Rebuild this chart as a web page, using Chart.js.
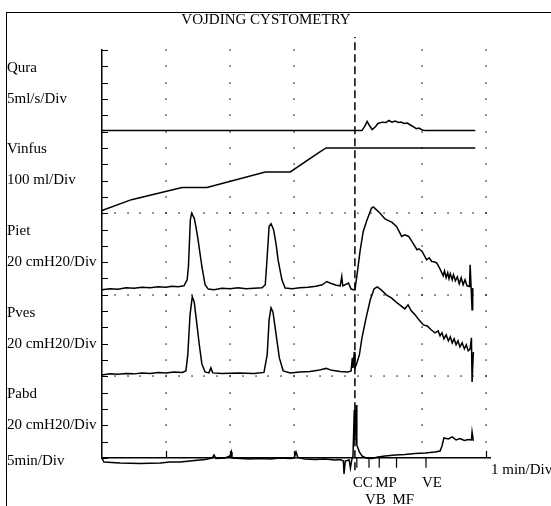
<!DOCTYPE html>
<html>
<head>
<meta charset="utf-8">
<title>Vojding cystometry</title>
<script src="https://cdn.jsdelivr.net/npm/chart.js@4.4.1/dist/chart.umd.min.js"></script>
<style>
  html, body { margin: 0; padding: 0; background: #fff; }
  #wrap { position: relative; width: 551px; height: 506px; overflow: hidden; }
  #frame { position: absolute; left: 6px; top: 12px; right: -2px; bottom: -2px;
           border-left: 1.5px solid #000; border-top: 1.5px solid #000; }
  #cmg { position: absolute; left: 0; top: 0; }
</style>
</head>
<body>
<div id="wrap">
  <div id="frame"></div>
  <canvas id="cmg" width="551" height="506"></canvas>
</div>
<script>
// ---------------------------
// data: x = time in divisions (0-4 at 5 min/Div, after 4 at 1 min/Div)
// y = channel value in its own unit
const quraTrace = [ // ml/s
  [0,0.3],[4.06,0.3],[4.11,1.8],[4.14,3.1],[4.17,2.1],[4.22,0.6],[4.27,1.5],[4.31,2.5],
  [4.38,2.9],[4.44,2.8],[4.48,3.4],[4.53,2.9],[4.58,3.2],[4.63,2.8],[4.67,2.9],[4.72,2.5],
  [4.77,2.6],[4.81,2.1],[4.86,1.5],[4.91,0.9],[4.95,1.1],[5.0,0.5],[5.06,0.3],[5.83,0.3]
];
const vinfusTrace = [ // ml
  [0,17],[0.46,83],[1.25,158],[1.64,158],[2.55,253],[2.94,253],[3.38,369],[3.50,400],[5.83,400]
];
const pietTrace = [ // cmH2O
  [0,6.1],[0.125,7.4],[0.25,6.7],[0.375,8.6],[0.5,8.0],[0.625,9.2],[0.75,8.6],[0.875,9.8],
  [1.0,9.2],[1.09,10.4],[1.19,9.8],[1.28,11.0],[1.33,18.4],[1.35,34.7],[1.38,92],[1.40,100],
  [1.44,94],[1.47,82],[1.50,67.5],[1.56,34.7],[1.61,12.3],[1.66,7.0],[1.75,6.1],[1.875,8.0],
  [2.0,7.4],[2.125,8.6],[2.25,7.4],[2.375,8.0],[2.5,8.6],[2.55,12.3],[2.57,34.7],[2.61,83.8],
  [2.64,87],[2.68,79.8],[2.72,61.4],[2.75,42.9],[2.81,18.4],[2.86,8.2],[2.97,7.4],[3.09,8.6],
  [3.22,9.2],[3.34,10.4],[3.44,12.3],[3.51,16.3],[3.56,14.4],[3.66,11.7],[3.72,11.0],[3.745,22.5],
  [3.76,11.0],[3.85,14.4],[3.89,7.0],[3.93,6.1],[3.95,6.1],[3.98,22.5],[4.03,53.1],[4.08,77.7],
  [4.14,92],[4.21,106.4],[4.24,107.6],[4.34,100.2],[4.42,92.9],[4.53,88.7],[4.6,83.8],[4.68,71.5],
  [4.73,73.6],[4.79,71.5],[4.84,65.4],[4.92,55.2],[4.95,56.4],[5.0,53.1],[5.07,42.9],[5.11,45.4],
  [5.15,40.9],[5.19,40.5],[5.23,38.9],[5.27,33.1],[5.31,26.6],[5.33,23.3],[5.35,29.4],[5.375,20.9],
  [5.40,27.0],[5.42,19.6],[5.44,25.8],[5.47,18.4],[5.49,24.5],[5.52,17.2],[5.55,22.1],[5.58,13.5],
  [5.61,20.9],[5.64,12.3],[5.67,18.4],[5.70,11.0],[5.74,10.2],[5.75,36.8],[5.78,-18.4],[5.79,8.2]
];
const pvesTrace = [ // cmH2O
  [0,1.8],[0.125,3.1],[0.25,2.5],[0.375,3.7],[0.5,3.1],[0.625,4.3],[0.75,3.7],[0.875,4.9],
  [1.0,4.3],[1.125,5.5],[1.25,4.9],[1.31,6.7],[1.34,26.4],[1.375,75.5],[1.41,97.5],[1.44,91.4],
  [1.47,71.8],[1.52,38.7],[1.56,15.3],[1.61,5.5],[1.67,4.3],[1.70,10.4],[1.73,4.3],[1.875,3.7],
  [2.125,4.3],[2.375,3.7],[2.53,4.9],[2.58,26.4],[2.61,69.3],[2.64,84],[2.67,79.1],[2.72,50.9],
  [2.77,22.7],[2.83,6.7],[2.94,4.3],[3.09,5.5],[3.25,6.1],[3.375,7.4],[3.5,9.8],[3.59,7.4],
  [3.72,6.1],[3.84,5.5],[3.89,6.7],[3.91,22.7],[3.92,10.4],[3.94,30],[3.95,10.4],[3.97,14.1],
  [4.02,26.4],[4.06,47.2],[4.125,71.8],[4.19,93.9],[4.25,107.4],[4.30,109.8],[4.36,106.1],[4.44,100],
  [4.52,96.3],[4.59,91.4],[4.67,86.5],[4.73,82.8],[4.78,87.7],[4.83,80.4],[4.89,75.5],[4.95,69.3],
  [5.02,63.1],[5.08,61.8],[5.14,57.1],[5.2,53.4],[5.25,55.8],[5.28,49.7],[5.31,53.4],[5.34,46],
  [5.375,50.9],[5.41,43.6],[5.44,48.5],[5.47,41.1],[5.5,46],[5.53,38.7],[5.56,43.6],[5.59,36.2],
  [5.625,41.1],[5.66,33.7],[5.69,38.7],[5.72,31.3],[5.75,33.7],[5.77,47.2],[5.78,-6.7],[5.80,30]
];
const pabdTrace = [ // cmH2O
  [0,0],[0.03,-4.9],[0.28,-6.1],[0.59,-6.7],[0.91,-6.1],[1.06,-4.9],[1.22,-4.9],[1.45,-3.1],
  [1.61,-1.8],[1.72,0],[1.75,3.7],[1.78,-0.6],[1.92,0],[2.0,2.5],[2.02,7.4],[2.03,0],
  [2.16,-0.6],[2.31,-1.2],[2.47,-0.6],[2.63,-1.2],[2.78,0],[2.94,-0.6],[3.0,0],[3.03,7.4],
  [3.06,0.6],[3.17,-1.2],[3.33,-1.8],[3.48,-1.2],[3.64,-2.5],[3.72,-1.8],[3.77,-3.7],[3.78,-19.6],
  [3.8,-3.7],[3.86,-2.5],[3.88,-12.3],[3.9,-2.5],[3.92,2.5],[3.94,58.9],[3.95,22.1],[3.97,65],
  [3.98,16],[4.02,7.4],[4.06,2.5],[4.125,0],[4.22,-0.6],[4.31,1.2],[4.42,2.5],[4.58,3.7],
  [4.73,4.3],[4.89,5.5],[5.05,6.1],[5.2,7.4],[5.28,8.6],[5.31,14.7],[5.34,24.5],[5.41,23.3],
  [5.47,25.8],[5.53,22.1],[5.59,23.9],[5.66,21.5],[5.72,22.7],[5.77,22.1],[5.78,31.9],[5.8,20.9]
];

// channels, top to bottom
const channelNames = ['Qura', 'Vinfus', 'Piet', 'Pves', 'Pabd'];
const channelUnits = ['5ml/s/Div', '100 ml/Div', '20 cmH20/Div', '20 cmH20/Div', '20 cmH20/Div'];
const unitsPerDiv = [5, 100, 20, 20, 20];

// events on the time axis
const eventNames = ['CC', 'VB', 'MP', 'MF', 'VE'];
const eventTimes = [3.98, 4.17, 4.33, 4.60, 5.06];
const eventRows = [0, 1, 0, 1, 0];
const voidStart = 3.95;          // dashed line
const gridColumns = [1, 2, 3, 5, 6];

// ---------------------------
// layout (in divisions)
const DIVS_PER_CHANNEL = 5;
const TOTAL_DIVS = 25;
const channelBase = i => (channelNames.length - 1 - i) * DIVS_PER_CHANNEL;
const FONT = '15px "Liberation Serif", "Times New Roman", serif';

function toPoints(trace, ch) {
  return trace.map(p => ({ x: p[0], y: channelBase(ch) + p[1] / unitsPerDiv[ch] }));
}

const traces = [quraTrace, vinfusTrace, pietTrace, pvesTrace, pabdTrace];
const datasets = traces.map((tr, i) => ({
  label: channelNames[i],
  data: toPoints(tr, i),
  borderColor: '#000',
  borderWidth: 1.5,
  pointRadius: 0,
  tension: 0,
  clip: false
}));

// event ticks below the time axis
const eventTicks = [];
eventTimes.forEach(t => { eventTicks.push({x: t, y: 0}, {x: t, y: -0.6}, {x: t, y: null}); });
datasets.push({
  label: 'events', data: eventTicks, borderColor: '#000', borderWidth: 1.2,
  pointRadius: 0, spanGaps: false, clip: false
});
// dashed line at start of voiding
datasets.push({
  label: 'void', data: [{x: voidStart, y: -0.75}, {x: voidStart, y: TOTAL_DIVS + 0.8}],
  borderColor: '#000', borderWidth: 1.5, borderDash: [8, 4], pointRadius: 0, clip: false
});

// dots, ticks and text
const cmgDecor = {
  id: 'cmgDecor',
  beforeDatasetsDraw(chart) {
    const {ctx, scales: {x, y}} = chart;
    ctx.save();
    ctx.fillStyle = '#000';
    const dot = (px, py) => ctx.fillRect(Math.round(px) - 0.6, Math.round(py) - 0.6, 1.3, 1.3);
    gridColumns.forEach(c => {
      for (let v = 1; v <= TOTAL_DIVS; v++) dot(x.getPixelForValue(c), y.getPixelForValue(v));
    });
    for (let ch = 1; ch < channelNames.length - 1; ch++) {
      const v = channelBase(ch);
      for (let k = 0; k <= 30; k++) dot(x.getPixelForValue(k * 0.2), y.getPixelForValue(v));
    }
    // ticks on the left axis, pointing inward
    ctx.strokeStyle = '#000';
    ctx.lineWidth = 1.2;
    ctx.beginPath();
    for (let v = 0; v <= TOTAL_DIVS; v++) {
      const py = Math.round(y.getPixelForValue(v)) + 0.5;
      ctx.moveTo(x.left, py); ctx.lineTo(x.left + 6, py);
    }
    // ticks on the time axis, pointing up
    [1, 2, 3, 6].forEach(c => {
      const px = Math.round(x.getPixelForValue(c)) + 0.5;
      ctx.moveTo(px, y.bottom); ctx.lineTo(px, y.bottom - 7);
    });
    ctx.stroke();
    ctx.restore();
  },
  afterDraw(chart) {
    const {ctx, scales: {x, y}} = chart;
    ctx.save();
    ctx.fillStyle = '#000';
    ctx.font = FONT;
    ctx.textBaseline = 'middle';
    ctx.textAlign = 'center';
    ctx.fillText('VOJDING CYSTOMETRY', 266, 20);
    ctx.textAlign = 'left';
    channelNames.forEach((n, i) => {
      ctx.fillText(n, 7, y.getPixelForValue(channelBase(i) + 3.9));
      ctx.fillText(channelUnits[i], 7, y.getPixelForValue(channelBase(i) + 2.0));
    });
    ctx.fillText('5min/Div', 7, y.getPixelForValue(-0.18));
    ctx.fillText('1 min/Div', x.right + 1, y.getPixelForValue(-0.75));
    eventNames.forEach((n, i) => {
      ctx.fillText(n, x.getPixelForValue(eventTimes[i]) - 4, y.getPixelForValue(eventRows[i] ? -2.6 : -1.55));
    });
    ctx.restore();
  }
};

new Chart(document.getElementById('cmg'), {
  type: 'line',
  data: { datasets },
  options: {
    responsive: false,
    devicePixelRatio: 1,
    animation: false,
    layout: { padding: { left: 102, right: 61, top: 50, bottom: 48 } },
    plugins: { legend: { display: false }, tooltip: { enabled: false } },
    scales: {
      x: {
        type: 'linear', min: 0, max: 6.06,
        ticks: { display: false },
        grid: { display: false, drawTicks: false },
        border: { display: true, color: '#000', width: 1.5 }
      },
      y: {
        type: 'linear', min: 0, max: TOTAL_DIVS,
        ticks: { display: false },
        grid: { display: false, drawTicks: false },
        border: { display: true, color: '#000', width: 1.5 }
      }
    }
  },
  plugins: [cmgDecor]
});
</script>
</body>
</html>
